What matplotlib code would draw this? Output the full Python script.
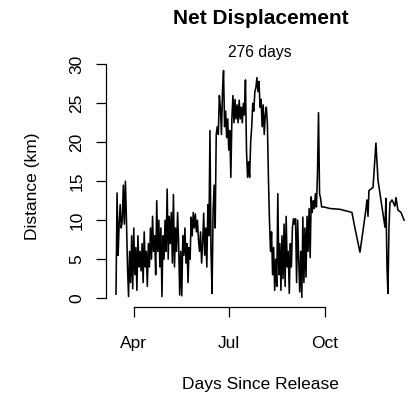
import numpy as np
import matplotlib
matplotlib.use("Agg")
import matplotlib.pyplot as plt
import matplotlib.dates as mdates
from datetime import datetime, timedelta

plt.rcParams['font.family'] = ['Liberation Sans', 'DejaVu Sans']

release = datetime(2015, 3, 15)
track_days = 276

# daily net displacement (km) for the first 198 days after release
daily_km = [
    0.5, 13.5, 5.5, 9.5, 12, 9, 10, 14.5, 9.5, 15,
    10, 4, 0.2, 6, 2, 8, 1.2, 9, 3, 6.5,
    1, 8, 4, 6, 3.5, 7, 2, 8.5, 4, 6,
    1.5, 7, 4, 9, 5, 10.5, 6, 8, 3, 12.5,
    6, 10, 4, 9, 0.2, 8, 5, 10, 6, 14,
    5, 10.5, 7, 11, 4.5, 13.3, 4, 9, 6, 11,
    7, 0.4, 6, 0.3, 8, 5.5, 9, 4.5, 7, 2,
    6.5, 5, 10.4, 8, 11, 9, 10.8, 8.5, 10, 7.5,
    6, 8.5, 4.5, 7, 10.9, 5.5, 9, 4, 12, 8,
    21.5, 6, 0.6, 11, 14.5, 9, 21, 22, 21, 26,
    24.5, 21, 26.5, 29.2, 22, 24, 20.6, 23, 19, 21.5,
    15.5, 23, 26, 22.5, 25.5, 23, 24.8, 22.5, 25.4, 23,
    24.5, 22.5, 25, 23.5, 28, 19, 15.5, 17.5, 15.5, 20,
    22, 25, 24, 26.5, 27, 28.3, 26.5, 27.8, 24.5, 25.5,
    22, 24.8, 21, 23.5, 24.5, 22.5, 15.5, 10, 6, 8.5,
    3, 6.5, 1, 5, 1.5, 13.4, 3, 7, 1, 8,
    2.5, 9.5, 1.5, 10.5, 4, 6, 0.6, 7, 4, 9,
    10.2, 9.5, 10.2, 2, 10, 5, 0.8, 6, 0.1, 10.4,
    2, 9, 2.7, 10.5, 6, 11.5, 5.2, 13, 11, 12.5,
    11.5, 13.4, 11.7, 16, 23.8, 13.4, 12.8, 11.7,
]

# sparse fixes towards the end of the track
tail_days = [199.2, 205, 214.6, 226, 228.9, 233.7, 237.5, 239.5, 240.4, 241.4,
             242.3, 246.2, 249, 250, 251, 257.7, 258.6, 259.6, 260.5, 261.5,
             262.4, 264.4, 267.2, 268.2, 270.1, 273, 276]
tail_km = [11.7, 11.5, 11.4, 11.0, 9, 5.9, 9.5, 11.5, 12.6, 10.5,
           13.8, 14.2, 19.9, 17.5, 15.1, 9.1, 12.8, 4, 0.6, 9,
           12.2, 12.6, 11.8, 12.9, 11.3, 11.0, 10.0]

days = list(np.arange(len(daily_km))) + tail_days
km = daily_km + tail_km
dates = [release + timedelta(days=float(d)) for d in days]

fig = plt.figure(figsize=(4.11, 3.98), dpi=100)
ax = fig.add_axes([0.2579, 0.2274, 0.7421, 0.6344])

ax.plot(dates, km, color='black', lw=1.15)

ax.set_xlim(release + timedelta(days=-9.6), release + timedelta(days=282.6))
ax.set_ylim(-1.2, 31.2)

# base-graphics look: no box, axis lines only span the ticks
for side in ('top', 'right'):
    ax.spines[side].set_visible(False)
month_ticks = [datetime(2015, 4, 1), datetime(2015, 7, 1), datetime(2015, 10, 1)]
ax.set_xticks(month_ticks)
ax.set_xticklabels(['Apr', 'Jul', 'Oct'])
ax.set_yticks([0, 5, 10, 15, 20, 25, 30])
ax.spines['left'].set_bounds(0, 30)
ax.spines['bottom'].set_bounds(mdates.date2num(month_ticks[0]), mdates.date2num(month_ticks[-1]))
for sp in ('left', 'bottom'):
    ax.spines[sp].set_linewidth(0.9)

ax.tick_params(axis='both', length=7.5, width=0.9, labelsize=12.5, colors='black')
ax.tick_params(axis='x', pad=13)
ax.tick_params(axis='y', pad=8, labelrotation=90)
for lab in ax.get_yticklabels():
    lab.set_va('center')

W, H = 411, 398
fig.text(261 / W, 1 - 19 / H, 'Net Displacement', ha='center', va='center',
         fontsize=15, fontweight='bold')
fig.text(260 / W, 1 - 52 / H, f'{track_days} days', ha='center', va='center', fontsize=11.3)
fig.text(260 / W, 1 - 385 / H, 'Days Since Release', ha='center', va='center', fontsize=12.5)
fig.text(33 / W, 1 - 186 / H, 'Distance (km)', ha='center', va='center',
         fontsize=12.5, rotation=90)

fig.savefig('out.png', dpi=100)
